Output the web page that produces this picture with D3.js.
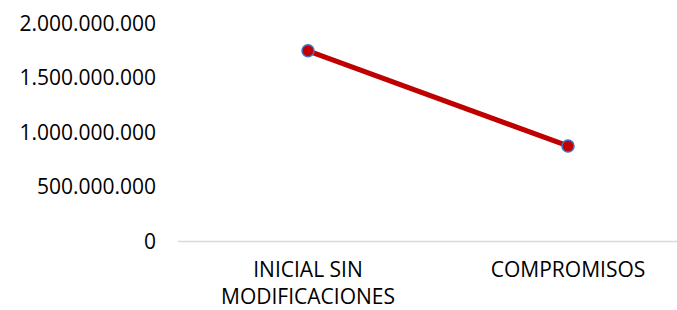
<!DOCTYPE html>
<html>
<head>
<meta charset="utf-8">
<script src="https://d3js.org/d3.v7.min.js"></script>
<style>
  body { margin: 0; background: #fff; }
  text { font-family: 'Open Sans', 'Liberation Sans', sans-serif; fill: #000; }
</style>
</head>
<body>
<script>
  const categories = [['INICIAL SIN', 'MODIFICACIONES'], ['COMPROMISOS']]
  const values = [1745000000, 872000000]
  const yTicks = [0, 500000000, 1000000000, 1500000000, 2000000000]

  const width = 677
  const height = 310
  const fontSize = 21

  const svg = d3.select('body').append('svg')
    .attr('width', width)
    .attr('height', height)

  const x = d3.scaleBand()
    .domain(d3.range(categories.length))
    .range([178, 698])

  const y = d3.scaleLinear()
    .domain([0, 2000000000])
    .range([241, 23])

  const fmt = d => d3.format(',')(d).replace(/,/g, '.')

  // y tick labels (no axis line)
  svg.append('g')
    .selectAll('text')
    .data(yTicks)
    .join('text')
    .attr('x', 156)
    .attr('y', d => y(d))
    .attr('dy', '0.36em')
    .attr('text-anchor', 'end')
    .attr('font-size', fontSize)
    .text(fmt)

  // category axis line
  svg.append('line')
    .attr('x1', x.range()[0])
    .attr('x2', width)
    .attr('y1', y(0) + 0.5)
    .attr('y2', y(0) + 0.5)
    .attr('stroke', '#d9d9d9')
    .attr('stroke-width', 1.5)

  // category labels
  svg.append('g')
    .selectAll('text')
    .data(categories)
    .join('text')
    .attr('text-anchor', 'middle')
    .attr('font-size', fontSize)
    .attr('transform', (d, i) => `translate(${x(i) + x.bandwidth() / 2},276.5)`)
    .selectAll('tspan')
    .data(d => d)
    .join('tspan')
    .attr('x', 0)
    .attr('y', (d, i) => i * 27)
    .text(d => d)

  const line = d3.line()
    .x((d, i) => x(i) + x.bandwidth() / 2)
    .y(d => y(d))

  svg.append('path')
    .datum(values)
    .attr('d', line)
    .attr('fill', 'none')
    .attr('stroke', '#c00000')
    .attr('stroke-width', 5)

  svg.append('g')
    .selectAll('circle')
    .data(values)
    .join('circle')
    .attr('cx', (d, i) => x(i) + x.bandwidth() / 2)
    .attr('cy', d => y(d))
    .attr('r', 6)
    .attr('fill', '#c00000')
    .attr('stroke', '#4472c4')
    .attr('stroke-width', 1.5)
</script>
</body>
</html>
